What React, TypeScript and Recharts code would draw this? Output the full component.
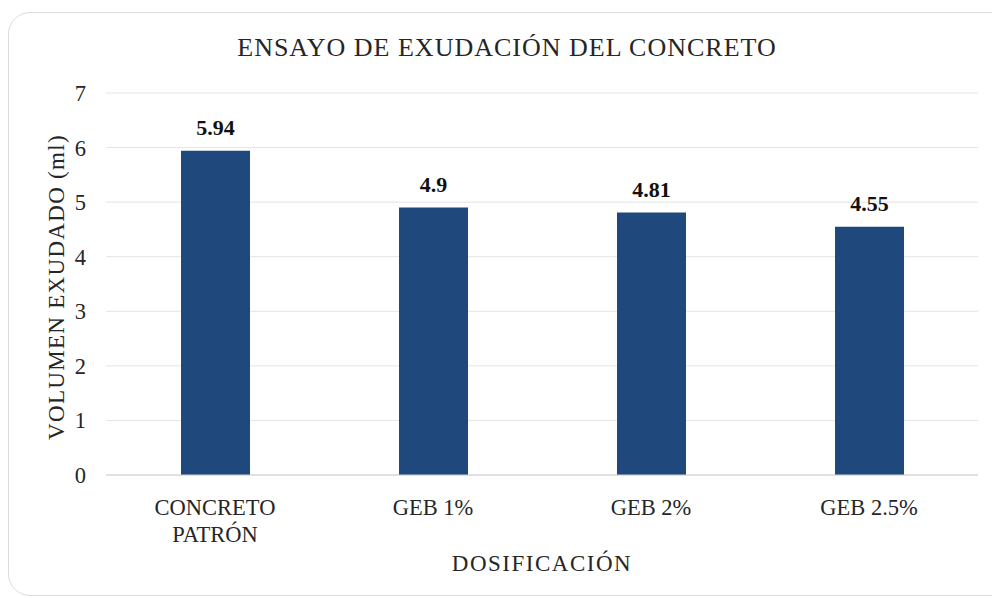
import React from 'react';
import { BarChart, Bar, XAxis, YAxis, CartesianGrid, LabelList } from 'recharts';

const categories = ['CONCRETO\nPATRÓN', 'GEB 1%', 'GEB 2%', 'GEB 2.5%'];
const volumes = [5.94, 4.9, 4.81, 4.55];
const yTicks = [0, 1, 2, 3, 4, 5, 6, 7];

const data = categories.map((c, i) => ({ name: c, value: volumes[i] }));

const FONT = '"Liberation Serif", "Times New Roman", serif';
const TEXT = '#262626';

const XTick = (props: any) => {
  const { x, y, payload } = props;
  const lines = String(payload.value).split('\n');
  return (
    <g transform={`translate(${x},${y})`}>
      <text textAnchor="middle" fontFamily={FONT} fontSize={22.5} fill={TEXT}>
        {lines.map((l: string, i: number) => (
          <tspan key={i} x={0} y={32 + i * 27}>{l}</tspan>
        ))}
      </text>
    </g>
  );
};

export default function App() {
  return (
    <div style={{ position: 'absolute', left: 0, top: 0, width: 992, height: 598, overflow: 'hidden', background: '#fff' }}>
      <div style={{ position: 'absolute', left: 8, top: 12, width: 1010, height: 584, border: '1px solid #dcdcdc', borderRadius: 22, boxSizing: 'border-box' }} />
      <div style={{ position: 'absolute', left: 0, width: 1014, top: 33, textAlign: 'center', fontFamily: FONT, fontSize: 26, letterSpacing: 1, lineHeight: '30px', color: TEXT, whiteSpace: 'nowrap' }}>
        ENSAYO DE EXUDACIÓN DEL CONCRETO
      </div>
      <div style={{ position: 'absolute', left: 57, top: 287, transform: 'translate(-50%, -50%) rotate(-90deg)', fontFamily: FONT, fontSize: 23, letterSpacing: 1.3, lineHeight: '28px', color: TEXT, whiteSpace: 'nowrap' }}>
        VOLUMEN EXUDADO (ml)
      </div>
      <div style={{ position: 'absolute', left: 0, top: 0 }}>
        <BarChart width={992} height={598} data={data} margin={{ top: 93, right: 14, bottom: 23, left: 56 }}>
          <CartesianGrid vertical={false} stroke="#e4e4e4" />
          <XAxis
            dataKey="name"
            height={100}
            tickLine={false}
            axisLine={{ stroke: '#d0d0d0' }}
            tick={<XTick />}
            interval={0}
            label={{ value: 'DOSIFICACIÓN', position: 'insideBottom', offset: 4, fontFamily: FONT, fontSize: 23, letterSpacing: 1.5, fill: TEXT }}
          />
          <YAxis
            width={50}
            domain={[0, 7]}
            ticks={yTicks}
            tickLine={false}
            axisLine={false}
            tickSize={0}
            tickMargin={20}
            tick={{ fontFamily: FONT, fontSize: 22.5, fill: TEXT }}
          />
          <Bar dataKey="value" fill="#1F497D" barSize={69} isAnimationActive={false}>
            <LabelList dataKey="value" position="top" offset={16} fontFamily={FONT} fontSize={22} fontWeight="bold" fill="#111" />
          </Bar>
        </BarChart>
      </div>
    </div>
  );
}
